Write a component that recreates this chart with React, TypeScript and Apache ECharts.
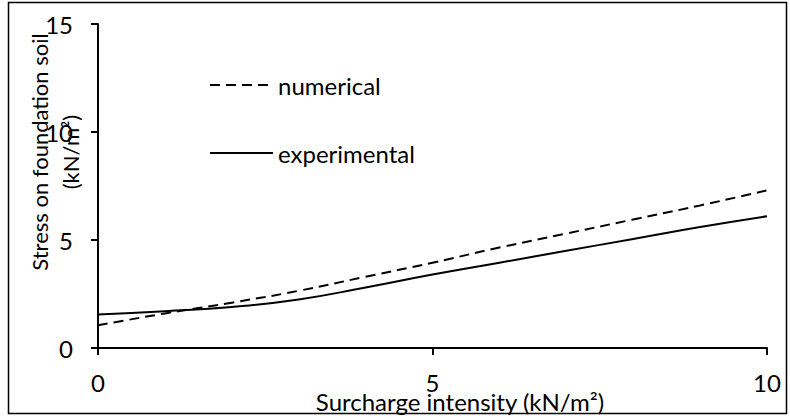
import React, { useRef, useEffect } from "react";
import * as echarts from "echarts";

const xValues = [0, 1, 2, 3, 4, 5, 6, 7, 8, 9, 10];
const numerical = [1.05, 1.6, 2.1, 2.65, 3.3, 3.95, 4.65, 5.3, 5.95, 6.6, 7.3];
const experimental = [1.55, 1.7, 1.9, 2.25, 2.8, 3.4, 3.95, 4.5, 5.05, 5.6, 6.1];
const xTicks = { min: 0, max: 10, interval: 5 };
const yTicks = { min: 0, max: 15, interval: 5 };
const yTitle = "Stress on foundation soil\n(kN/m\u00B2)";
const xTitle = "Surcharge intensity (kN/m\u00B2)";

const FONT = "Lato";

export default function App() {
  const ref = useRef<HTMLDivElement>(null);
  useEffect(() => {
    const chart = echarts.init(ref.current!, null, { renderer: "svg" });
    chart.setOption({
      animation: false,
      backgroundColor: "#fff",
      grid: { left: 98, right: 23, top: 24, bottom: 71, containLabel: false },
      xAxis: {
        type: "value",
        min: xTicks.min,
        max: xTicks.max,
        interval: xTicks.interval,
        axisLine: { show: true, lineStyle: { color: "#000", width: 2 } },
        axisTick: { show: true, inside: false, length: 7, lineStyle: { color: "#000", width: 2 } },
        axisLabel: { margin: 22, color: "#000", fontSize: 24, fontFamily: FONT },
        splitLine: { show: false },
      },
      yAxis: {
        type: "value",
        min: yTicks.min,
        max: yTicks.max,
        interval: yTicks.interval,
        axisLine: { show: true, lineStyle: { color: "#000", width: 2 } },
        axisTick: { show: true, inside: false, length: 7, lineStyle: { color: "#000", width: 2 } },
        axisLabel: { margin: 25, color: "#000", fontSize: 24, fontFamily: FONT },
        splitLine: { show: false },
      },
      legend: {
        orient: "vertical",
        left: 204,
        top: 68,
        itemWidth: 63,
        itemHeight: 26,
        itemGap: 44,
        itemStyle: { opacity: 0 },
        textStyle: { color: "#000", fontSize: 24, fontFamily: FONT },
        data: ["numerical", "experimental"],
      },
      series: [
        {
          name: "numerical",
          type: "line",
          smooth: true,
          symbol: "none",
          data: xValues.map((x, i) => [x, numerical[i]]),
          lineStyle: { color: "#000", width: 2, type: [10, 6] },
          itemStyle: { color: "#000" },
        },
        {
          name: "experimental",
          type: "line",
          smooth: true,
          symbol: "none",
          data: xValues.map((x, i) => [x, experimental[i]]),
          lineStyle: { color: "#000", width: 2, type: "solid" },
          itemStyle: { color: "#000" },
        },
      ],
      graphic: [
        {
          type: "rect",
          silent: true,
          shape: { x: 8.5, y: 2.5, width: 778, height: 411 },
          style: { fill: "none", stroke: "#000", lineWidth: 1.5 },
        },
        {
          type: "text",
          x: 55,
          y: 152,
          rotation: Math.PI / 2,
          style: {
            text: yTitle,
            fontSize: 22,
            fontFamily: FONT,
            fill: "#000",
            align: "center",
            verticalAlign: "middle",
            lineHeight: 31,
          },
        },
        {
          type: "text",
          x: 460,
          y: 401,
          style: {
            text: xTitle,
            fontSize: 24,
            fontFamily: FONT,
            fill: "#000",
            align: "center",
            verticalAlign: "middle",
          },
        },
      ],
    });
    return () => chart.dispose();
  }, []);
  return (
    <div
      ref={ref}
      style={{ position: "absolute", left: 0, top: 0, width: 790, height: 419, background: "#fff" }}
    />
  );
}
